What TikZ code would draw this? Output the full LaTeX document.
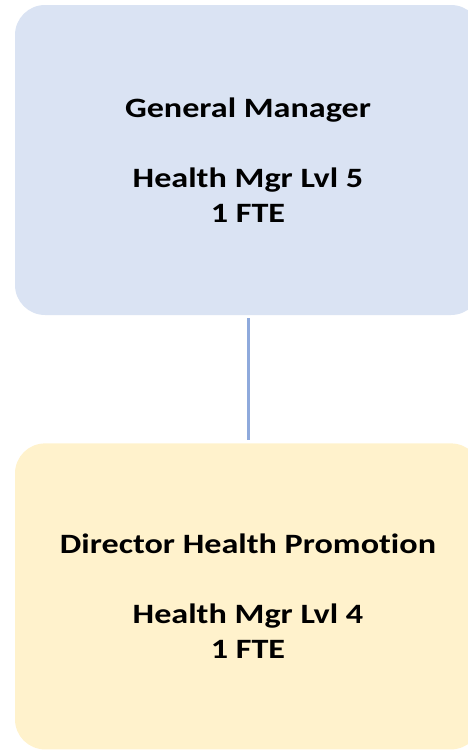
\documentclass[tikz,border=0pt]{standalone}
\usepackage{fontspec}
\setmainfont[FakeStretch=1.22, Ligatures=NoCommon]{Carlito}
\usepackage{xcolor}
\usetikzlibrary{positioning}

\definecolor{gmfill}{HTML}{DAE3F3}
\definecolor{dirfill}{HTML}{FFF2CC}
\definecolor{linkcol}{HTML}{8FAADC}

\begin{document}
\begin{tikzpicture}[x=1pt, y=-1pt,
    % Position boxes
    posbox/.style={rectangle, rounded corners=30pt, draw=none, minimum width=466pt,
                   align=center, font=\fontsize{28}{35}\selectfont\bfseries, inner sep=0pt},
    gmbox/.style={posbox, fill=gmfill, minimum height=310pt},
    dirbox/.style={posbox, fill=dirfill, minimum height=306pt},
    link/.style={draw=linkcol, line width=3pt, shorten <=3pt, shorten >=3pt}
]
\useasboundingbox (0,0) rectangle (467,750);

% Boxes
\node[gmbox] at (248,160) (gm) {General Manager\\[35pt]Health Mgr Lvl 5\\1 FTE};
\node[dirbox, below=128pt of gm] (dir) {Director Health Promotion\\[35pt]Health Mgr Lvl 4\\1 FTE};

% Connection
\draw[link] (gm.south) -- (dir.north);

\end{tikzpicture}
\end{document}
